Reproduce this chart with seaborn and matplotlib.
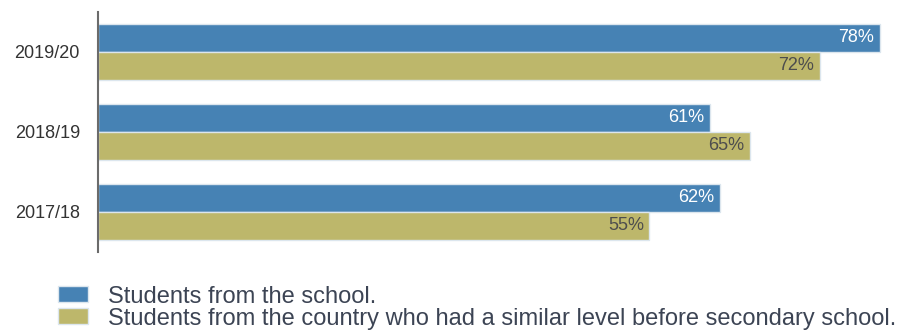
import pandas as pd
import matplotlib.pyplot as plt
import seaborn as sns

# data
years = ['2019/20', '2018/19', '2017/18']
school = [78, 61, 62]
country = [72, 65, 55]
series_names = ['Students from the school.',
                'Students from the country who had a similar level before secondary school.']

df = pd.DataFrame({
    'year': years * 2,
    'value': school + country,
    'group': [series_names[0]] * 3 + [series_names[1]] * 3,
})

sns.set_style('white')
plt.rcParams['font.family'] = ['Liberation Sans', 'DejaVu Sans']

fig = plt.figure(figsize=(9.07, 3.32), dpi=100)
ax = fig.add_axes([98 / 907, 1 - 252 / 332, 1 - 98 / 907 - 7 / 907, 240 / 332])

sns.barplot(data=df, y='year', x='value', hue='group', orient='h',
            palette=['#4682b4', '#bdb76b'], saturation=1, width=0.7,
            edgecolor='#dce6ee', linewidth=1, ax=ax)

ax.set_xlim(0, 80)
ax.set_ylim(2.5, -0.5)
ax.set_xlabel('')
ax.set_ylabel('')
ax.set_xticks([])
for s in ['top', 'right', 'bottom']:
    ax.spines[s].set_visible(False)
ax.spines['left'].set_color('#6b6b6b')
ax.spines['left'].set_linewidth(1.5)
ax.tick_params(axis='y', length=0, pad=13, labelsize=13, labelcolor='#333333')

label_colors = ['white', '#4d4d4d']
for cont, col in zip(ax.containers, label_colors):
    texts = ax.bar_label(cont, labels=[f'{int(v)}%' for v in cont.datavalues],
                         padding=-4, fontsize=13, color=col)
    for t in texts:
        t.set_ha('right')

handles, labels = ax.get_legend_handles_labels()
ax.get_legend().remove()
leg = fig.legend(handles, labels, loc='lower left', bbox_to_anchor=(56 / 907, 0.0),
                 frameon=False, fontsize=17, handlelength=1.25, handleheight=0.68,
                 handletextpad=0.85, labelspacing=0.0, borderpad=0.1, borderaxespad=0)
for t in leg.get_texts():
    t.set_color('#3c4454')

plt.savefig('out.png', dpi=100)
